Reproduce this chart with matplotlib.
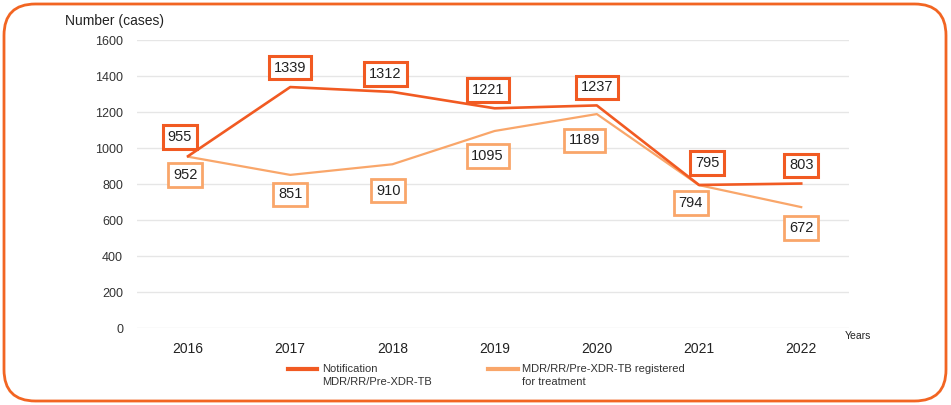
import matplotlib.pyplot as plt
import numpy as np
from matplotlib.patches import FancyBboxPatch
from matplotlib.lines import Line2D

years = ["2016", "2017", "2018", "2019", "2020", "2021", "2022"]
notified = [955, 1339, 1312, 1221, 1237, 795, 803]
registered = [952, 851, 910, 1095, 1189, 794, 672]

yticks = [0, 200, 400, 600, 800, 1000, 1200, 1400, 1600]

dark = "#F15A22"
light = "#F9A66A"

# label offsets in points (dx, dy) for each series
notif_off = [(-6, 14), (0, 14), (-5, 13), (-5, 13), (0, 13), (6, 16), (0, 13)]
reg_off = [(-2, -13), (0, -14), (-3, -19), (-5, -18), (-9, -19), (-6, -13), (0, -15)]

plt.rcParams['font.family'] = ['Liberation Sans', 'DejaVu Sans']

fig = plt.figure(figsize=(9.51, 4.05), dpi=100)
ax = fig.add_axes([0.144, 0.190, 0.749, 0.711])

x = np.arange(len(years))
ax.plot(x, registered, color=light, lw=1.6, zorder=2)
ax.plot(x, notified, color=dark, lw=1.9, zorder=3)

for i in range(len(years)):
    ax.annotate(str(notified[i]), (x[i], notified[i]), xytext=notif_off[i],
                textcoords="offset points", ha="center", va="center",
                fontsize=10.5, color="#222222", zorder=5,
                bbox=dict(boxstyle="square,pad=0.33", fc="white", ec=dark, lw=2.2))
    ax.annotate(str(registered[i]), (x[i], registered[i]), xytext=reg_off[i],
                textcoords="offset points", ha="center", va="center",
                fontsize=10.5, color="#222222", zorder=4,
                bbox=dict(boxstyle="square,pad=0.33", fc="white", ec=light, lw=2.0))

ax.set_xlim(-0.5, 6.47)
ax.set_ylim(0, 1600)
ax.set_yticks(yticks)
ax.set_xticks(x)
ax.set_xticklabels(years)
ax.tick_params(axis="y", length=0, pad=10, labelsize=9, labelcolor="#333333")
ax.tick_params(axis="x", length=0, pad=10, labelsize=10, labelcolor="#222222")
ax.grid(axis="y", color="#e6e6e6", lw=1)
ax.set_axisbelow(True)
for s in ax.spines.values():
    s.set_visible(False)

fig.text(65 / 951, 1 - 21 / 405, "Number (cases)", fontsize=10, va="center", ha="left", color="#222222")
fig.text(845 / 951, 1 - 336 / 405, "Years", fontsize=7.5, va="center", ha="left", color="#222222")

# legend drawn by hand
fig.add_artist(Line2D([288 / 951, 317 / 951], [1 - 369 / 405] * 2, color=dark, lw=3))
fig.text(322 / 951, 1 - 369 / 405, "Notification", fontsize=8, va="center", color="#333333")
fig.text(322 / 951, 1 - 382 / 405, "MDR/RR/Pre-XDR-TB", fontsize=8, va="center", color="#333333")
fig.add_artist(Line2D([488 / 951, 518 / 951], [1 - 369 / 405] * 2, color=light, lw=3))
fig.text(522 / 951, 1 - 369 / 405, "MDR/RR/Pre-XDR-TB registered", fontsize=8, va="center", color="#333333")
fig.text(522 / 951, 1 - 382 / 405, "for treatment", fontsize=8, va="center", color="#333333")

# rounded orange frame
frame = FancyBboxPatch((4 / 951, 4 / 405), 942 / 951, 397 / 405,
                       boxstyle="round,pad=0,rounding_size=0.033",
                       transform=fig.transFigure, fc="none", ec="#F26522", lw=2,
                       mutation_aspect=951 / 405)
fig.add_artist(frame)

fig.savefig("out.png", dpi=100)
